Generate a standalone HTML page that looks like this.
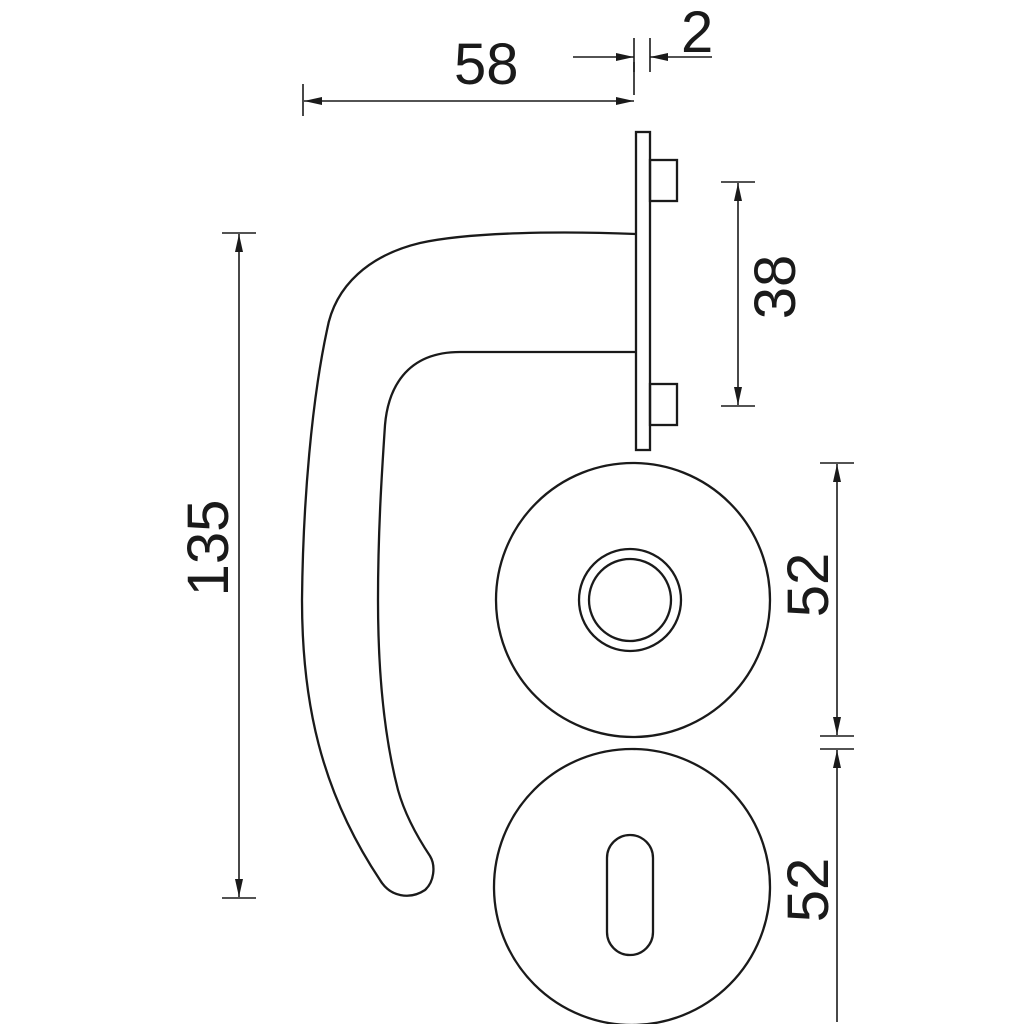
<!DOCTYPE html>
<html><head><style>html,body{margin:0;padding:0;background:#fff}svg{display:block}text{font-family:"Liberation Sans",sans-serif;font-size:58px;fill:#1a1a1a}</style></head>
<body>
<svg width="1024" height="1024" viewBox="0 0 1024 1024" xmlns="http://www.w3.org/2000/svg">
<defs>
<marker id="a" viewBox="0 0 18 8" refX="18" refY="4" markerWidth="18" markerHeight="8" markerUnits="userSpaceOnUse" orient="auto-start-reverse"><path d="M0,0 L18,4 L0,8 z" fill="#1a1a1a"/></marker>
</defs>
<g stroke="#1a1a1a" stroke-width="2.3" fill="none">
<rect x="636" y="132" width="14" height="318"/>
<rect x="650" y="160" width="27" height="41"/>
<rect x="650" y="384" width="27" height="41"/>
<path d="M636,234 C560,231 470,232 420,243 C370,255 335,285 327,330 C312,400 303,500 302,600 C302,700 320,790 380,880 C390,897 410,900 425,890 C434,882 436,866 430,856 C418,838 405,815 398,790 C385,740 378,680 378,600 C378,530 382,470 385,425 C388,390 405,352 460,352 L636,352"/>
<circle cx="633" cy="600" r="137"/>
<circle cx="630" cy="600" r="51"/>
<circle cx="630" cy="600" r="41"/>
<circle cx="632" cy="887" r="138"/>
<rect x="607" y="835" width="46" height="120" rx="23"/>
<g stroke-width="1.6">
<line x1="303" y1="84" x2="303" y2="116"/>
<line x1="634" y1="62" x2="634" y2="95"/>
<line x1="650" y1="38" x2="650" y2="72"/>
<line x1="634" y1="38" x2="634" y2="72"/>
<line x1="304" y1="101" x2="634" y2="101" marker-start="url(#a)" marker-end="url(#a)"/>
<line x1="573" y1="57" x2="634" y2="57" marker-end="url(#a)"/>
<line x1="712" y1="57" x2="650" y2="57" marker-end="url(#a)"/>
<line x1="222" y1="233" x2="256" y2="233"/>
<line x1="222" y1="898" x2="256" y2="898"/>
<line x1="239" y1="234" x2="239" y2="897" marker-start="url(#a)" marker-end="url(#a)"/>
<line x1="721" y1="182" x2="755" y2="182"/>
<line x1="721" y1="406" x2="755" y2="406"/>
<line x1="738" y1="183" x2="738" y2="405" marker-start="url(#a)" marker-end="url(#a)"/>
<line x1="820" y1="463" x2="854" y2="463"/>
<line x1="820" y1="736" x2="854" y2="736"/>
<line x1="820" y1="749" x2="854" y2="749"/>
<line x1="837" y1="464" x2="837" y2="735" marker-start="url(#a)" marker-end="url(#a)"/>
<line x1="837" y1="750" x2="837" y2="1022" marker-start="url(#a)"/>
</g>
</g>
<text x="454" y="84">58</text>
<text x="681" y="52">2</text>
<text transform="translate(228,548) rotate(-90)" text-anchor="middle">135</text>
<text transform="translate(795,287) rotate(-90)" text-anchor="middle">38</text>
<text transform="translate(828,585) rotate(-90)" text-anchor="middle">52</text>
<text transform="translate(828,890) rotate(-90)" text-anchor="middle">52</text>
</svg>
</body></html>
